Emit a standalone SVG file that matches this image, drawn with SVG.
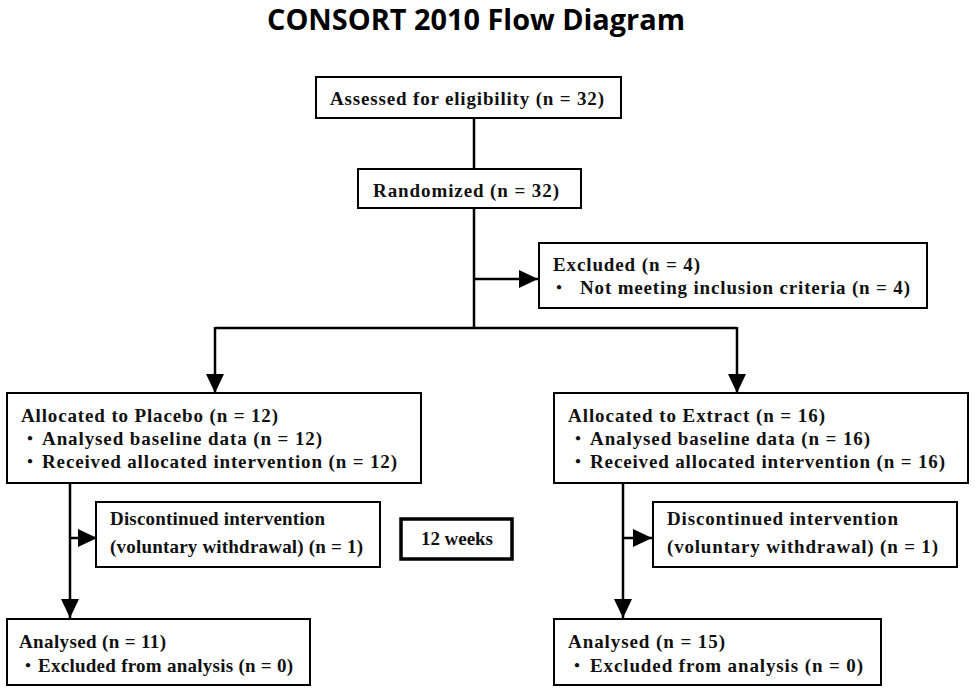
<svg xmlns="http://www.w3.org/2000/svg" width="978" height="694" viewBox="0 0 978 694">
<style>
.box{fill:#fff;stroke:#000;stroke-width:2}
.thick{fill:#fff;stroke:#000;stroke-width:3.5}
.t{font-family:"Liberation Serif","Noto Sans CJK JP",serif;font-weight:bold;font-size:19px;fill:#111}
.d{font-family:"Noto Sans CJK JP","Liberation Serif",serif;font-weight:bold;font-size:17px;fill:#111}
.ln{fill:none;stroke:#000;stroke-width:2.5}
.title{font-family:"Open Sans","Liberation Sans",sans-serif;font-weight:bold;font-size:28px;fill:#000}
</style>
<defs>
<marker id="ah" markerUnits="userSpaceOnUse" markerWidth="19" markerHeight="18" refX="19" refY="9" orient="auto">
<path d="M0,0 L19,9 L0,18 z" fill="#000"/>
</marker>
</defs>
<rect width="978" height="694" fill="#fff"/>
<text class="title" x="267" y="30" textLength="418" lengthAdjust="spacingAndGlyphs">CONSORT 2010 Flow Diagram</text>
<g id="connectors">
<path class="ln" d="M474,118 V169"/>
<path class="ln" d="M474,208 V328"/>
<path class="ln" d="M474,279 H538" marker-end="url(#ah)"/>
<path class="ln" d="M215,328 H737"/>
<path class="ln" d="M215,327 V393" marker-end="url(#ah)"/>
<path class="ln" d="M737,327 V393" marker-end="url(#ah)"/>
<path class="ln" d="M70,483 V618" marker-end="url(#ah)"/>
<path class="ln" d="M70,538 H97" marker-end="url(#ah)"/>
<path class="ln" d="M623,483 V618" marker-end="url(#ah)"/>
<path class="ln" d="M623,538 H652" marker-end="url(#ah)"/>
</g>
<g id="assessed">
<rect class="box" x="316" y="77" width="305" height="41"/>
<text class="t" x="330" y="105" textLength="274">Assessed for eligibility (n = 32)</text>
</g>
<g id="randomized">
<rect class="box" x="358" y="169" width="223" height="39"/>
<text class="t" x="373" y="197" textLength="186">Randomized (n = 32)</text>
</g>
<g id="excluded">
<rect class="box" x="539" y="243" width="388" height="65"/>
<text class="t" x="553" y="271" textLength="147">Excluded (n = 4)</text>
<text class="d" x="559" y="294" text-anchor="middle">・</text>
<text class="t" x="580" y="294" textLength="330">Not meeting inclusion criteria (n = 4)</text>
</g>
<g id="placebo">
<rect class="box" x="7" y="393" width="414" height="90"/>
<text class="t" x="21" y="422" textLength="257">Allocated to Placebo (n = 12)</text>
<text class="d" x="30" y="445" text-anchor="middle">・</text>
<text class="t" x="42" y="445" textLength="280">Analysed baseline data (n = 12)</text>
<text class="d" x="30" y="468" text-anchor="middle">・</text>
<text class="t" x="42" y="468" textLength="355">Received allocated intervention (n = 12)</text>
</g>
<g id="extract">
<rect class="box" x="554" y="393" width="414" height="90"/>
<text class="t" x="568" y="422" textLength="257">Allocated to Extract (n = 16)</text>
<text class="d" x="578" y="445" text-anchor="middle">・</text>
<text class="t" x="590" y="445" textLength="280">Analysed baseline data (n = 16)</text>
<text class="d" x="578" y="468" text-anchor="middle">・</text>
<text class="t" x="590" y="468" textLength="355">Received allocated intervention (n = 16)</text>
</g>
<g id="discontinued-placebo">
<rect class="box" x="96" y="502" width="284" height="65"/>
<text class="t" x="110" y="525" textLength="215">Discontinued intervention</text>
<text class="t" x="110" y="553" textLength="253">(voluntary withdrawal) (n = 1)</text>
</g>
<g id="weeks">
<rect class="thick" x="401" y="519" width="111" height="40"/>
<text class="t" x="421" y="545" textLength="72">12 weeks</text>
</g>
<g id="discontinued-extract">
<rect class="box" x="653" y="502" width="304" height="65"/>
<text class="t" x="667" y="525" textLength="231">Discontinued intervention</text>
<text class="t" x="667" y="553" textLength="271">(voluntary withdrawal) (n = 1)</text>
</g>
<g id="analysed-placebo">
<rect class="box" x="7" y="619" width="303" height="66"/>
<text class="t" x="19" y="648" textLength="147">Analysed (n = 11)</text>
<text class="d" x="28" y="672" text-anchor="middle">・</text>
<text class="t" x="38" y="672" textLength="255">Excluded from analysis (n = 0)</text>
</g>
<g id="analysed-extract">
<rect class="box" x="554" y="619" width="327" height="66"/>
<text class="t" x="568" y="648" textLength="157">Analysed (n = 15)</text>
<text class="d" x="577" y="672" text-anchor="middle">・</text>
<text class="t" x="590" y="672" textLength="273">Excluded from analysis (n = 0)</text>
</g>
</svg>
